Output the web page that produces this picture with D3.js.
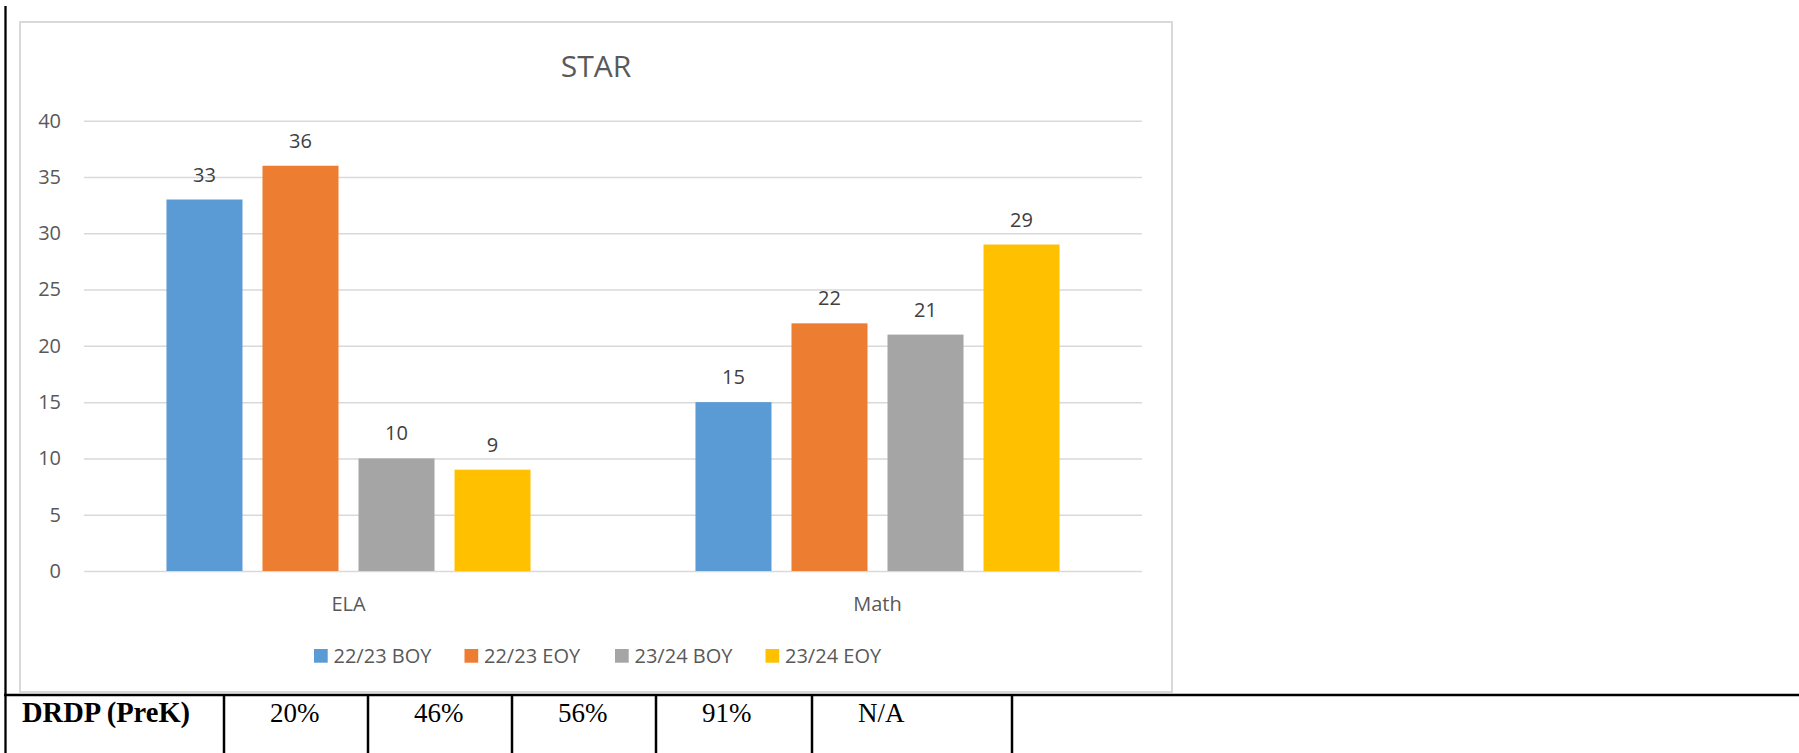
<!DOCTYPE html>
<html>
<head>
<meta charset="utf-8">
<script src="https://cdn.jsdelivr.net/npm/d3@7"></script>
<style>
  body { margin: 0; background: #fff; }
  svg { display: block; }
</style>
</head>
<body>
<div id="content"></div>
<script>
// Chart data.
var categories = ['ELA', 'Math'];
var seriesNames = ['22/23 BOY', '22/23 EOY', '23/24 BOY', '23/24 EOY'];
var boy2223 = [33, 15];
var eoy2223 = [36, 22];
var boy2324 = [10, 21];
var eoy2324 = [9, 29];
var yTicks = [0, 5, 10, 15, 20, 25, 30, 35, 40];
var colors = ['#5B9BD5', '#ED7D31', '#A5A5A5', '#FFC000'];

// Table row under the chart.
var tableLabel = 'DRDP (PreK)';
var tableValues = ['20%', '46%', '56%', '91%', 'N/A'];
var tableEdges = [224, 368, 512, 656, 812, 1012];

var seriesValues = [boy2223, eoy2223, boy2324, eoy2324];

// SVG Dimensions.
var W = 1799, H = 753;
var plot = {left : 84, right : 1142, top : 120.7, bottom : 571};
var font = '"Open Sans", "Segoe UI", sans-serif';
var textColor = '#595959';

var svg = d3.select('#content')
              .append('svg')
              .attr('width', W)
              .attr('height', H);

// Chart box.
svg.append('rect')
    .attr('x', 20).attr('y', 22)
    .attr('width', 1152).attr('height', 670)
    .attr('fill', '#fff')
    .attr('stroke', '#D9D9D9')
    .attr('stroke-width', 2);

// Title.
svg.append('text')
    .attr('x', 596).attr('y', 77)
    .attr('text-anchor', 'middle')
    .attr('font-family', font)
    .attr('font-size', 30)
    .attr('fill', textColor)
    .text('STAR');

// Scales.
var y = d3.scaleLinear().domain([0, 40]).range([plot.bottom, plot.top]);
var x0 = d3.scaleBand().domain(categories).range([plot.left, plot.right]);
var x1 = d3.scaleBand()
             .domain(d3.range(seriesNames.length))
             .range([0, x0.bandwidth()])
             .paddingInner(0.2083)
             .paddingOuter(0.859);

// Y axis with gridlines.
var yAxis = svg.append('g')
    .attr('transform', 'translate(' + plot.left + ',0)')
    .call(d3.axisLeft(y)
              .tickValues(yTicks)
              .tickSize(-(plot.right - plot.left))
              .tickPadding(23));
yAxis.select('.domain').remove();
yAxis.selectAll('line').attr('stroke', '#D9D9D9').attr('stroke-width', 1.5);
yAxis.selectAll('text')
    .attr('font-family', font)
    .attr('font-size', 20)
    .attr('fill', textColor);

// X axis (category labels only).
var xAxis = svg.append('g')
    .attr('transform', 'translate(0,' + plot.bottom + ')')
    .call(d3.axisBottom(x0).tickSize(0).tickPadding(26));
xAxis.select('.domain').remove();
xAxis.selectAll('text')
    .attr('font-family', font)
    .attr('font-size', 20)
    .attr('fill', textColor);

// Bars.
var groups = svg.append('g')
    .selectAll('g')
    .data(categories)
    .join('g')
    .attr('transform', function(d) { return 'translate(' + x0(d) + ',0)'; });

groups.selectAll('rect')
    .data(function(d, ci) {
      return seriesValues.map(function(s, si) { return {s : si, v : s[ci]}; });
    })
    .join('rect')
    .attr('x', function(d) { return x1(d.s); })
    .attr('y', function(d) { return y(d.v); })
    .attr('width', x1.bandwidth())
    .attr('height', function(d) { return y(0) - y(d.v); })
    .attr('fill', function(d) { return colors[d.s]; });

// Data labels.
groups.selectAll('text')
    .data(function(d, ci) {
      return seriesValues.map(function(s, si) { return {s : si, v : s[ci]}; });
    })
    .join('text')
    .attr('x', function(d) { return x1(d.s) + x1.bandwidth() / 2; })
    .attr('y', function(d) { return y(d.v) - 18; })
    .attr('text-anchor', 'middle')
    .attr('font-family', font)
    .attr('font-size', 20)
    .attr('fill', '#404040')
    .text(function(d) { return d.v; });

// Legend.
var legend = svg.append('g')
    .selectAll('g')
    .data(seriesNames)
    .join('g')
    .attr('transform', function(d, i) { return 'translate(' + (314 + i * 150.5) + ',649)'; });

legend.append('rect')
    .attr('width', 13.7).attr('height', 13.7)
    .attr('fill', function(d, i) { return colors[i]; });

legend.append('text')
    .attr('x', 19.5).attr('y', 14.3)
    .attr('font-family', font)
    .attr('font-size', 20)
    .attr('fill', textColor)
    .text(function(d) { return d; });

// Document table lines.
var lines = svg.append('g').attr('stroke', '#000');
lines.append('line')
    .attr('x1', 5.5).attr('x2', 5.5).attr('y1', 6).attr('y2', H)
    .attr('stroke-width', 2.3);
lines.append('line')
    .attr('x1', 4).attr('x2', W).attr('y1', 695).attr('y2', 695)
    .attr('stroke-width', 2.7);
lines.selectAll('.cell')
    .data(tableEdges)
    .join('line')
    .attr('class', 'cell')
    .attr('x1', function(d) { return d; })
    .attr('x2', function(d) { return d; })
    .attr('y1', 695).attr('y2', H)
    .attr('stroke-width', 2.5);

// Table text.
var serif = '"Liberation Serif", "Times New Roman", serif';
svg.append('text')
    .attr('x', 22).attr('y', 722)
    .attr('font-family', serif)
    .attr('font-weight', 'bold')
    .attr('font-size', 28.5)
    .attr('fill', '#000')
    .text(tableLabel);

svg.append('g')
    .selectAll('text')
    .data(tableValues)
    .join('text')
    .attr('x', function(d, i) { return tableEdges[i] + 46; })
    .attr('y', 722)
    .attr('font-family', serif)
    .attr('font-size', 27)
    .attr('fill', '#000')
    .text(function(d) { return d; });
</script>
</body>
</html>
